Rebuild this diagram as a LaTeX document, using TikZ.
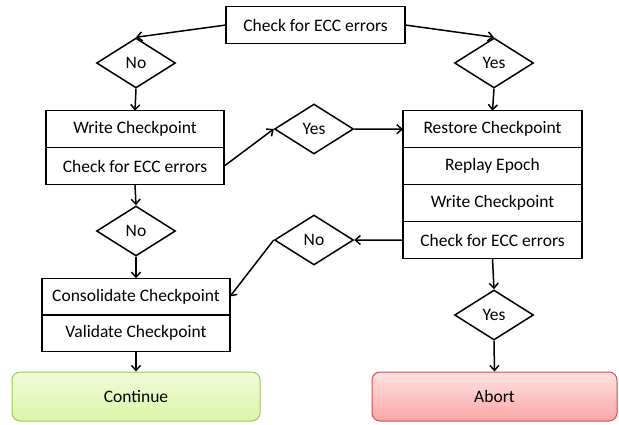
\documentclass[tikz,border=0pt]{standalone}
\usepackage{fontspec}
\setmainfont{Carlito}
\usetikzlibrary{shapes.geometric,arrows.meta,positioning}
\definecolor{GoTop}{RGB}{241,251,218}
\definecolor{GoBot}{RGB}{218,246,168}
\definecolor{GoLine}{RGB}{155,203,94}
\definecolor{StopTop}{RGB}{255,226,226}
\definecolor{StopBot}{RGB}{252,166,166}
\definecolor{StopLine}{RGB}{200,80,80}
\tikzset{
  tbox/.style={rectangle,draw=black,line width=1.5pt,fill=white,outer sep=0pt,
               font=\fontsize{17.5}{21}\selectfont,minimum height=37pt,inner sep=0pt},
  tdec/.style={diamond,draw=black,line width=1.5pt,fill=white,aspect=1.58,
               font=\fontsize{17.5}{21}\selectfont,minimum width=79pt,minimum height=50pt,
               inner sep=0pt},
  tend/.style={rectangle,rounded corners=8pt,line width=1pt,
               font=\fontsize{17.5}{21}\selectfont,minimum height=49pt},
  tedge/.style={-{Straight Barb[length=5pt,width=9pt]},line width=1.5pt},
}

\begin{document}
\begin{tikzpicture}[x=1pt,y=-1pt]
  \useasboundingbox (0,0) rectangle (619,424);

  % first check
  \node[tbox,minimum width=179pt] (top) at (315.5,25) {Check for ECC errors};
  \node[tdec] (no1) at (136,63) {No};
  \node[tdec] (yes1) at (494,63) {Yes};

  % no error: write and check again
  \node[tbox,minimum width=178pt] (wcp) at (135,129.2) {Write Checkpoint};
  \node[tbox,minimum width=178pt,below=0pt of wcp] (ecc1) {Check for ECC errors};
  \node[tdec] (yes2) at (314,129) {Yes};
  \node[tdec] (no2) at (136,231) {No};

  % error: restore and replay
  \node[tbox,minimum width=179pt] (rcp) at (492.5,129.2) {Restore Checkpoint};
  \node[tbox,minimum width=179pt,below=0pt of rcp] (rep) {Replay Epoch};
  \node[tbox,minimum width=179pt,below=0pt of rep] (wcp2) {Write Checkpoint};
  \node[tbox,minimum width=179pt,below=0pt of wcp2] (ecc2) {Check for ECC errors};
  \node[tdec] (no3) at (314,240) {No};
  \node[tdec] (yes3) at (494,315) {Yes};

  % finish
  \node[tbox,minimum width=188pt,minimum height=36.5pt] (ccp) at (136,296.5) {Consolidate Checkpoint};
  \node[tbox,minimum width=188pt,minimum height=36.5pt,below=0pt of ccp] (vcp) {Validate Checkpoint};
  \node[tend,draw=GoLine,top color=GoTop,bottom color=GoBot,minimum width=248pt] (cont) at (136,396.5) {Continue};
  \node[tend,draw=StopLine,top color=StopTop,bottom color=StopBot,minimum width=245pt] (abort) at (494.5,396.5) {Abort};

  \draw[tedge] (top.west) -- (no1.north);
  \draw[tedge] (top.east) -- (yes1.north);
  \draw[tedge] (no1.south) -- (wcp.north);
  \draw[tedge] (yes1.south) -- (rcp.north);
  \draw[tedge] (ecc1.east) -- (yes2.west);
  \draw[tedge] (yes2.east) -- (rcp.west);
  \draw[tedge] (ecc1.south) -- (no2.north);
  \draw[tedge] (no2.south) -- (ccp.north);
  \draw[tedge] (ecc2.west) -- (no3.east);
  \draw[tedge] (no3.west) -- (ccp.east);
  \draw[tedge] (ecc2.south) -- (yes3.north);
  \draw[tedge] (yes3.south) -- (abort.north);
  \draw[tedge] (vcp.south) -- (cont.north);
\end{tikzpicture}
\end{document}
